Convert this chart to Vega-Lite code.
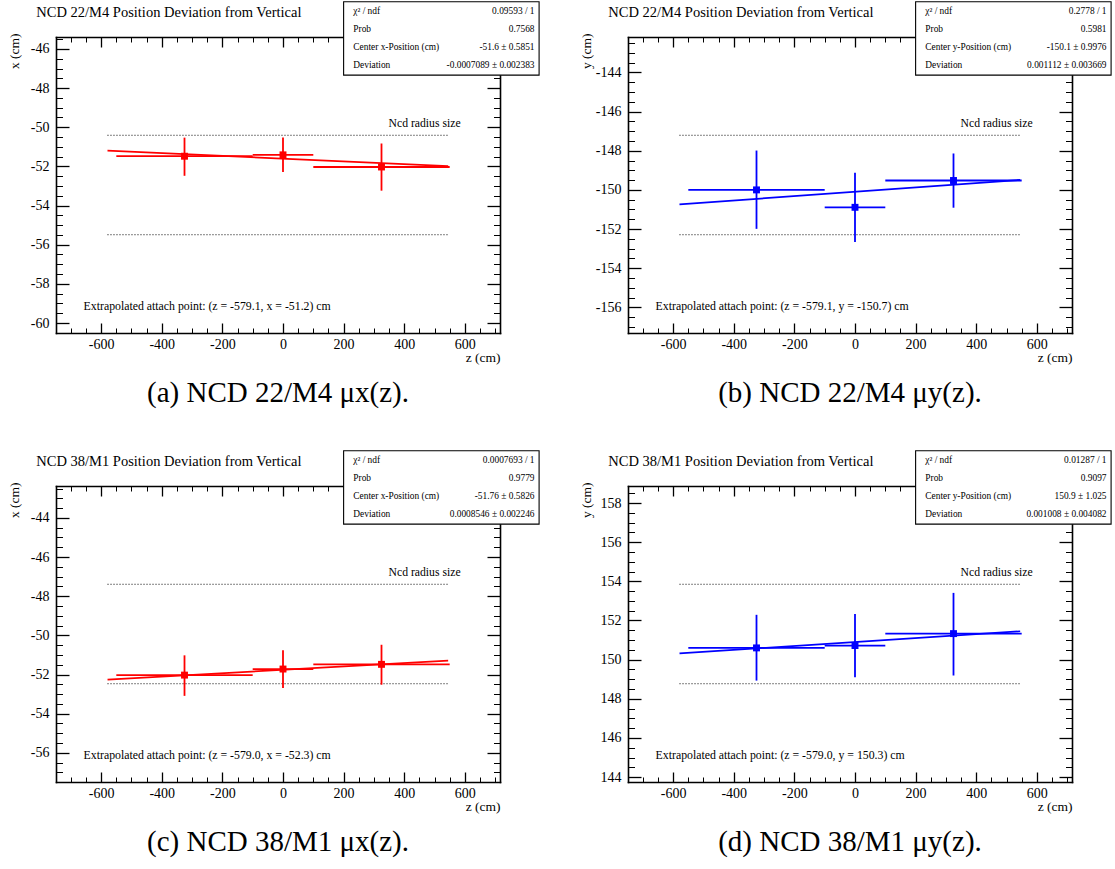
{
  "$schema": "https://vega.github.io/schema/vega-lite/v6.json",
  "background": "white",
  "padding": {"left": 7, "top": 1, "right": 2, "bottom": 2},
  "bounds": "flush",
  "columns": 2,
  "spacing": {"row": 153, "column": 128},
  "config": {
    "font": "Liberation Serif, Times New Roman, DejaVu Serif, serif",
    "view": {"stroke": null},
    "axis": {
      "domain": false, "grid": false, "tickColor": "black",
      "domainColor": "black", "domainWidth": 1.6, "domainCap": "square",
      "labelFont": "Liberation Serif, Times New Roman, DejaVu Serif, serif", "labelFontSize": 14, "labelColor": "black",
      "titleFont": "Liberation Serif, Times New Roman, DejaVu Serif, serif", "titleFontSize": 13.5, "titleFontWeight": "normal", "titleColor": "black"
    },
    "text": {"font": "Liberation Serif, Times New Roman, DejaVu Serif, serif", "color": "black"},
    "title": {"font": "Liberation Serif, Times New Roman, DejaVu Serif, serif", "fontSize": 29, "fontWeight": "normal", "color": "black"}
  },
  "datasets": {
    "a_pts": [
      {"z": -325, "z_lo": -550, "z_hi": -100, "v": -51.48, "v_lo": -52.48, "v_hi": -50.53},
      {"z": 0, "z_lo": -100, "z_hi": 100, "v": -51.41, "v_lo": -52.29, "v_hi": -50.53},
      {"z": 325, "z_lo": 100, "z_hi": 550, "v": -52.03, "v_lo": -53.24, "v_hi": -50.83}
    ],
    "a_fit": [{"z": -579.1, "v": -51.19}, {"z": 545, "v": -51.99}],
    "a_rad": [{"z1": -579.1, "z2": 545, "v": -50.41}, {"z1": -579.1, "z2": 545, "v": -55.49}],
    "b_pts": [
      {"z": -325, "z_lo": -550, "z_hi": -100, "v": -150.0, "v_lo": -151.99, "v_hi": -147.99},
      {"z": 0, "z_lo": -100, "z_hi": 100, "v": -150.89, "v_lo": -152.66, "v_hi": -149.12},
      {"z": 325, "z_lo": 100, "z_hi": 550, "v": -149.52, "v_lo": -150.91, "v_hi": -148.14}
    ],
    "b_fit": [{"z": -579.1, "v": -150.74}, {"z": 545, "v": -149.49}],
    "b_rad": [{"z1": -579.1, "z2": 545, "v": -147.21}, {"z1": -579.1, "z2": 545, "v": -152.29}],
    "c_pts": [
      {"z": -325, "z_lo": -550, "z_hi": -100, "v": -52.03, "v_lo": -53.09, "v_hi": -51.02},
      {"z": 0, "z_lo": -100, "z_hi": 100, "v": -51.72, "v_lo": -52.69, "v_hi": -50.76},
      {"z": 325, "z_lo": 100, "z_hi": 550, "v": -51.48, "v_lo": -52.52, "v_hi": -50.48}
    ],
    "c_fit": [{"z": -579.0, "v": -52.26}, {"z": 545, "v": -51.29}],
    "c_rad": [{"z1": -579.0, "z2": 545, "v": -47.39}, {"z1": -579.0, "z2": 545, "v": -52.47}],
    "d_pts": [
      {"z": -325, "z_lo": -550, "z_hi": -100, "v": 150.6, "v_lo": 148.93, "v_hi": 152.29},
      {"z": 0, "z_lo": -100, "z_hi": 100, "v": 150.72, "v_lo": 149.1, "v_hi": 152.33},
      {"z": 325, "z_lo": 100, "z_hi": 550, "v": 151.33, "v_lo": 149.19, "v_hi": 153.41}
    ],
    "d_fit": [{"z": -579.0, "v": 150.32}, {"z": 545, "v": 151.45}],
    "d_rad": [{"z1": -579.0, "z2": 545, "v": 153.85}, {"z1": -579.0, "z2": 545, "v": 148.77}]
  },
  "concat": [
    {
      "width": 444, "height": 296,
      "title": {"text": "(a) NCD 22/M4 μx(z).", "orient": "bottom", "anchor": "middle", "frame": "group", "offset": 15},
      "resolve": {"axis": {"x": "independent", "y": "independent"}},
      "layer": [
        {"data": {"name": "a_rad"},
         "mark": {"type": "rule", "color": "black", "strokeWidth": 1, "strokeDash": [1, 2]},
         "encoding": {
           "x": {"field": "z1", "type": "quantitative", "scale": {"domain": [-749, 716], "nice": false, "zero": false},
                 "axis": {"orient": "bottom", "values": [-600, -400, -200, 0, 200, 400, 600], "ticks": false, "labelPadding": 11, "labelBaseline": "middle", "labelExpr": "'' + datum.value", "labelOverlap": false, "labelFlush": false, "title": "z (cm)", "titleAlign": "right", "titleBaseline": "middle", "titleAngle": 0, "titleX": 444, "titleY": 24}},
           "x2": {"field": "z2"},
           "y": {"field": "v", "type": "quantitative", "scale": {"domain": [-60.51, -45.39], "nice": false, "zero": false},
                 "axis": {"orient": "left", "values": [-60, -58, -56, -54, -52, -50, -48, -46], "ticks": false, "labelPadding": 7, "labelBaseline": "middle", "labelAlign": "right", "labelExpr": "'' + datum.value", "labelOverlap": false, "labelFlush": false, "title": "x (cm)", "titleAngle": 270, "titleAlign": "right", "titleBaseline": "middle", "titleX": -42, "titleY": -4}}
         }},
        {"data": {"name": "a_pts"},
         "mark": {"type": "rule", "color": "#ff0000", "strokeWidth": 1.8},
         "encoding": {
           "x": {"field": "z_lo", "type": "quantitative", "scale": {"domain": [-749, 716], "nice": false, "zero": false},
                 "axis": {"orient": "bottom", "values": [-600, -400, -200, 0, 200, 400, 600], "labels": false, "domain": true, "tickSize": -10, "tickWidth": 1.3, "title": null}},
           "x2": {"field": "z_hi"},
           "y": {"field": "v", "type": "quantitative", "scale": {"domain": [-60.51, -45.39], "nice": false, "zero": false},
                 "axis": {"orient": "left", "values": [-60, -58, -56, -54, -52, -50, -48, -46], "labels": false, "domain": true, "tickSize": -13, "tickWidth": 1.3, "title": null}}
         }},
        {"data": {"name": "a_pts"},
         "mark": {"type": "rule", "color": "#ff0000", "strokeWidth": 1.8},
         "encoding": {
           "x": {"field": "z", "type": "quantitative", "scale": {"domain": [-749, 716], "nice": false, "zero": false},
                 "axis": {"orient": "bottom", "values": [-700, -650, -600, -550, -500, -450, -400, -350, -300, -250, -200, -150, -100, -50, 0, 50, 100, 150, 200, 250, 300, 350, 400, 450, 500, 550, 600, 650, 700], "labels": false, "tickSize": -5, "tickWidth": 1, "title": null}},
           "y": {"field": "v_lo", "type": "quantitative", "scale": {"domain": [-60.51, -45.39], "nice": false, "zero": false},
                 "axis": {"orient": "left", "values": [-60.5, -60, -59.5, -59, -58.5, -58, -57.5, -57, -56.5, -56, -55.5, -55, -54.5, -54, -53.5, -53, -52.5, -52, -51.5, -51, -50.5, -50, -49.5, -49, -48.5, -48, -47.5, -47, -46.5, -46, -45.5], "labels": false, "tickSize": -6.5, "tickWidth": 1, "title": null}},
           "y2": {"field": "v_hi"}
         }},
        {"data": {"name": "a_pts"},
         "mark": {"type": "square", "color": "#ff0000", "size": 48, "opacity": 1},
         "encoding": {
           "x": {"field": "z", "type": "quantitative", "scale": {"domain": [-749, 716], "nice": false, "zero": false},
                 "axis": {"orient": "top", "values": [-600, -400, -200, 0, 200, 400, 600], "labels": false, "domain": true, "tickSize": -10, "tickWidth": 1.3, "title": null}},
           "y": {"field": "v", "type": "quantitative", "scale": {"domain": [-60.51, -45.39], "nice": false, "zero": false},
                 "axis": {"orient": "right", "values": [-60, -58, -56, -54, -52, -50, -48, -46], "labels": false, "domain": true, "tickSize": -13, "tickWidth": 1.3, "title": null}}
         }},
        {"data": {"name": "a_fit"},
         "mark": {"type": "line", "color": "#ff0000", "strokeWidth": 1.7},
         "encoding": {
           "x": {"field": "z", "type": "quantitative", "scale": {"domain": [-749, 716], "nice": false, "zero": false},
                 "axis": {"orient": "top", "values": [-700, -650, -600, -550, -500, -450, -400, -350, -300, -250, -200, -150, -100, -50, 0, 50, 100, 150, 200, 250, 300, 350, 400, 450, 500, 550, 600, 650, 700], "labels": false, "tickSize": -5, "tickWidth": 1, "title": null}},
           "y": {"field": "v", "type": "quantitative", "scale": {"domain": [-60.51, -45.39], "nice": false, "zero": false},
                 "axis": {"orient": "right", "values": [-60.5, -60, -59.5, -59, -58.5, -58, -57.5, -57, -56.5, -56, -55.5, -55, -54.5, -54, -53.5, -53, -52.5, -52, -51.5, -51, -50.5, -50, -49.5, -49, -48.5, -48, -47.5, -47, -46.5, -46, -45.5], "labels": false, "tickSize": -6.5, "tickWidth": 1, "title": null}}
         }},
        {"data": {"values": [{}]},
         "mark": {"type": "text", "text": "Ncd radius size", "align": "right", "baseline": "middle", "fontSize": 11.7},
         "encoding": {
           "x": {"datum": 586, "type": "quantitative", "scale": {"domain": [-749, 716], "nice": false, "zero": false}, "axis": null},
           "y": {"datum": -49.8, "type": "quantitative", "scale": {"domain": [-60.51, -45.39], "nice": false, "zero": false}, "axis": null}
         }},
        {"data": {"values": [{}]},
         "mark": {"type": "text", "text": "Extrapolated attach point: (z = -579.1, x = -51.2) cm", "align": "left", "baseline": "middle", "fontSize": 11.8},
         "encoding": {
           "x": {"datum": -658, "type": "quantitative", "scale": {"domain": [-749, 716], "nice": false, "zero": false}, "axis": null},
           "y": {"datum": -59.12, "type": "quantitative", "scale": {"domain": [-60.51, -45.39], "nice": false, "zero": false}, "axis": null}
         }},
        {"data": {"values": [{}]},
         "mark": {"type": "text", "text": "NCD 22/M4 Position Deviation from Vertical", "align": "left", "baseline": "middle", "fontSize": 14.5},
         "encoding": {
           "x": {"datum": -814, "type": "quantitative", "scale": {"domain": [-749, 716], "nice": false, "zero": false}, "axis": null},
           "y": {"datum": -44.14, "type": "quantitative", "scale": {"domain": [-60.51, -45.39], "nice": false, "zero": false}, "axis": null}
         }},
        {"data": {"values": [{}]},
         "mark": {"type": "rect", "fill": "white", "stroke": "black", "strokeWidth": 1.1},
         "encoding": {
           "x": {"datum": 200, "type": "quantitative", "scale": {"domain": [-749, 716], "nice": false, "zero": false}, "axis": null},
           "x2": {"datum": 845},
           "y": {"datum": -43.59, "type": "quantitative", "scale": {"domain": [-60.51, -45.39], "nice": false, "zero": false}, "axis": null},
           "y2": {"datum": -47.34}
         }},
        {"data": {"values": [{}]},
         "mark": {"type": "text", "text": ["χ² / ndf", "Prob", "Center x-Position (cm)", "Deviation"], "align": "left", "baseline": "middle", "fontSize": 9.4, "lineHeight": 18.2},
         "encoding": {
           "x": {"datum": 232, "type": "quantitative", "scale": {"domain": [-749, 716], "nice": false, "zero": false}, "axis": null},
           "y": {"datum": -44.04, "type": "quantitative", "scale": {"domain": [-60.51, -45.39], "nice": false, "zero": false}, "axis": null}
         }},
        {"data": {"values": [{}]},
         "mark": {"type": "text", "text": ["0.09593 / 1", "0.7568", "-51.6 ± 0.5851", "-0.0007089 ± 0.002383"], "align": "right", "baseline": "middle", "fontSize": 9.4, "lineHeight": 18.2},
         "encoding": {
           "x": {"datum": 830, "type": "quantitative", "scale": {"domain": [-749, 716], "nice": false, "zero": false}, "axis": null},
           "y": {"datum": -44.04, "type": "quantitative", "scale": {"domain": [-60.51, -45.39], "nice": false, "zero": false}, "axis": null}
         }}
      ]
    },
    {
      "width": 444, "height": 296,
      "title": {"text": "(b) NCD 22/M4 μy(z).", "orient": "bottom", "anchor": "middle", "frame": "group", "offset": 15},
      "resolve": {"axis": {"x": "independent", "y": "independent"}},
      "layer": [
        {"data": {"name": "b_rad"},
         "mark": {"type": "rule", "color": "black", "strokeWidth": 1, "strokeDash": [1, 2]},
         "encoding": {
           "x": {"field": "z1", "type": "quantitative", "scale": {"domain": [-749, 716], "nice": false, "zero": false},
                 "axis": {"orient": "bottom", "values": [-600, -400, -200, 0, 200, 400, 600], "ticks": false, "labelPadding": 11, "labelBaseline": "middle", "labelExpr": "'' + datum.value", "labelOverlap": false, "labelFlush": false, "title": "z (cm)", "titleAlign": "right", "titleBaseline": "middle", "titleAngle": 0, "titleX": 444, "titleY": 24}},
           "x2": {"field": "z2"},
           "y": {"field": "v", "type": "quantitative", "scale": {"domain": [-157.31, -142.19], "nice": false, "zero": false},
                 "axis": {"orient": "left", "values": [-156, -154, -152, -150, -148, -146, -144], "ticks": false, "labelPadding": 7, "labelBaseline": "middle", "labelAlign": "right", "labelExpr": "'' + datum.value", "labelOverlap": false, "labelFlush": false, "title": "y (cm)", "titleAngle": 270, "titleAlign": "right", "titleBaseline": "middle", "titleX": -42, "titleY": -4}}
         }},
        {"data": {"name": "b_pts"},
         "mark": {"type": "rule", "color": "#0000ff", "strokeWidth": 1.8},
         "encoding": {
           "x": {"field": "z_lo", "type": "quantitative", "scale": {"domain": [-749, 716], "nice": false, "zero": false},
                 "axis": {"orient": "bottom", "values": [-600, -400, -200, 0, 200, 400, 600], "labels": false, "domain": true, "tickSize": -10, "tickWidth": 1.3, "title": null}},
           "x2": {"field": "z_hi"},
           "y": {"field": "v", "type": "quantitative", "scale": {"domain": [-157.31, -142.19], "nice": false, "zero": false},
                 "axis": {"orient": "left", "values": [-156, -154, -152, -150, -148, -146, -144], "labels": false, "domain": true, "tickSize": -13, "tickWidth": 1.3, "title": null}}
         }},
        {"data": {"name": "b_pts"},
         "mark": {"type": "rule", "color": "#0000ff", "strokeWidth": 1.8},
         "encoding": {
           "x": {"field": "z", "type": "quantitative", "scale": {"domain": [-749, 716], "nice": false, "zero": false},
                 "axis": {"orient": "bottom", "values": [-700, -650, -600, -550, -500, -450, -400, -350, -300, -250, -200, -150, -100, -50, 0, 50, 100, 150, 200, 250, 300, 350, 400, 450, 500, 550, 600, 650, 700], "labels": false, "tickSize": -5, "tickWidth": 1, "title": null}},
           "y": {"field": "v_lo", "type": "quantitative", "scale": {"domain": [-157.31, -142.19], "nice": false, "zero": false},
                 "axis": {"orient": "left", "values": [-157, -156.5, -156, -155.5, -155, -154.5, -154, -153.5, -153, -152.5, -152, -151.5, -151, -150.5, -150, -149.5, -149, -148.5, -148, -147.5, -147, -146.5, -146, -145.5, -145, -144.5, -144, -143.5, -143, -142.5], "labels": false, "tickSize": -6.5, "tickWidth": 1, "title": null}},
           "y2": {"field": "v_hi"}
         }},
        {"data": {"name": "b_pts"},
         "mark": {"type": "square", "color": "#0000ff", "size": 48, "opacity": 1},
         "encoding": {
           "x": {"field": "z", "type": "quantitative", "scale": {"domain": [-749, 716], "nice": false, "zero": false},
                 "axis": {"orient": "top", "values": [-600, -400, -200, 0, 200, 400, 600], "labels": false, "domain": true, "tickSize": -10, "tickWidth": 1.3, "title": null}},
           "y": {"field": "v", "type": "quantitative", "scale": {"domain": [-157.31, -142.19], "nice": false, "zero": false},
                 "axis": {"orient": "right", "values": [-156, -154, -152, -150, -148, -146, -144], "labels": false, "domain": true, "tickSize": -13, "tickWidth": 1.3, "title": null}}
         }},
        {"data": {"name": "b_fit"},
         "mark": {"type": "line", "color": "#0000ff", "strokeWidth": 1.7},
         "encoding": {
           "x": {"field": "z", "type": "quantitative", "scale": {"domain": [-749, 716], "nice": false, "zero": false},
                 "axis": {"orient": "top", "values": [-700, -650, -600, -550, -500, -450, -400, -350, -300, -250, -200, -150, -100, -50, 0, 50, 100, 150, 200, 250, 300, 350, 400, 450, 500, 550, 600, 650, 700], "labels": false, "tickSize": -5, "tickWidth": 1, "title": null}},
           "y": {"field": "v", "type": "quantitative", "scale": {"domain": [-157.31, -142.19], "nice": false, "zero": false},
                 "axis": {"orient": "right", "values": [-157, -156.5, -156, -155.5, -155, -154.5, -154, -153.5, -153, -152.5, -152, -151.5, -151, -150.5, -150, -149.5, -149, -148.5, -148, -147.5, -147, -146.5, -146, -145.5, -145, -144.5, -144, -143.5, -143, -142.5], "labels": false, "tickSize": -6.5, "tickWidth": 1, "title": null}}
         }},
        {"data": {"values": [{}]},
         "mark": {"type": "text", "text": "Ncd radius size", "align": "right", "baseline": "middle", "fontSize": 11.7},
         "encoding": {
           "x": {"datum": 586, "type": "quantitative", "scale": {"domain": [-749, 716], "nice": false, "zero": false}, "axis": null},
           "y": {"datum": -146.6, "type": "quantitative", "scale": {"domain": [-157.31, -142.19], "nice": false, "zero": false}, "axis": null}
         }},
        {"data": {"values": [{}]},
         "mark": {"type": "text", "text": "Extrapolated attach point: (z = -579.1, y = -150.7) cm", "align": "left", "baseline": "middle", "fontSize": 11.8},
         "encoding": {
           "x": {"datum": -658, "type": "quantitative", "scale": {"domain": [-749, 716], "nice": false, "zero": false}, "axis": null},
           "y": {"datum": -155.92, "type": "quantitative", "scale": {"domain": [-157.31, -142.19], "nice": false, "zero": false}, "axis": null}
         }},
        {"data": {"values": [{}]},
         "mark": {"type": "text", "text": "NCD 22/M4 Position Deviation from Vertical", "align": "left", "baseline": "middle", "fontSize": 14.5},
         "encoding": {
           "x": {"datum": -814, "type": "quantitative", "scale": {"domain": [-749, 716], "nice": false, "zero": false}, "axis": null},
           "y": {"datum": -140.94, "type": "quantitative", "scale": {"domain": [-157.31, -142.19], "nice": false, "zero": false}, "axis": null}
         }},
        {"data": {"values": [{}]},
         "mark": {"type": "rect", "fill": "white", "stroke": "black", "strokeWidth": 1.1},
         "encoding": {
           "x": {"datum": 200, "type": "quantitative", "scale": {"domain": [-749, 716], "nice": false, "zero": false}, "axis": null},
           "x2": {"datum": 845},
           "y": {"datum": -140.39, "type": "quantitative", "scale": {"domain": [-157.31, -142.19], "nice": false, "zero": false}, "axis": null},
           "y2": {"datum": -144.14}
         }},
        {"data": {"values": [{}]},
         "mark": {"type": "text", "text": ["χ² / ndf", "Prob", "Center y-Position (cm)", "Deviation"], "align": "left", "baseline": "middle", "fontSize": 9.4, "lineHeight": 18.2},
         "encoding": {
           "x": {"datum": 232, "type": "quantitative", "scale": {"domain": [-749, 716], "nice": false, "zero": false}, "axis": null},
           "y": {"datum": -140.84, "type": "quantitative", "scale": {"domain": [-157.31, -142.19], "nice": false, "zero": false}, "axis": null}
         }},
        {"data": {"values": [{}]},
         "mark": {"type": "text", "text": ["0.2778 / 1", "0.5981", "-150.1 ± 0.9976", "0.001112 ± 0.003669"], "align": "right", "baseline": "middle", "fontSize": 9.4, "lineHeight": 18.2},
         "encoding": {
           "x": {"datum": 830, "type": "quantitative", "scale": {"domain": [-749, 716], "nice": false, "zero": false}, "axis": null},
           "y": {"datum": -140.84, "type": "quantitative", "scale": {"domain": [-157.31, -142.19], "nice": false, "zero": false}, "axis": null}
         }}
      ]
    },
    {
      "width": 444, "height": 296,
      "title": {"text": "(c) NCD 38/M1 μx(z).", "orient": "bottom", "anchor": "middle", "frame": "group", "offset": 15},
      "resolve": {"axis": {"x": "independent", "y": "independent"}},
      "layer": [
        {"data": {"name": "c_rad"},
         "mark": {"type": "rule", "color": "black", "strokeWidth": 1, "strokeDash": [1, 2]},
         "encoding": {
           "x": {"field": "z1", "type": "quantitative", "scale": {"domain": [-749, 716], "nice": false, "zero": false},
                 "axis": {"orient": "bottom", "values": [-600, -400, -200, 0, 200, 400, 600], "ticks": false, "labelPadding": 11, "labelBaseline": "middle", "labelExpr": "'' + datum.value", "labelOverlap": false, "labelFlush": false, "title": "z (cm)", "titleAlign": "right", "titleBaseline": "middle", "titleAngle": 0, "titleX": 444, "titleY": 24}},
           "x2": {"field": "z2"},
           "y": {"field": "v", "type": "quantitative", "scale": {"domain": [-57.49, -42.37], "nice": false, "zero": false},
                 "axis": {"orient": "left", "values": [-56, -54, -52, -50, -48, -46, -44], "ticks": false, "labelPadding": 7, "labelBaseline": "middle", "labelAlign": "right", "labelExpr": "'' + datum.value", "labelOverlap": false, "labelFlush": false, "title": "x (cm)", "titleAngle": 270, "titleAlign": "right", "titleBaseline": "middle", "titleX": -42, "titleY": -4}}
         }},
        {"data": {"name": "c_pts"},
         "mark": {"type": "rule", "color": "#ff0000", "strokeWidth": 1.8},
         "encoding": {
           "x": {"field": "z_lo", "type": "quantitative", "scale": {"domain": [-749, 716], "nice": false, "zero": false},
                 "axis": {"orient": "bottom", "values": [-600, -400, -200, 0, 200, 400, 600], "labels": false, "domain": true, "tickSize": -10, "tickWidth": 1.3, "title": null}},
           "x2": {"field": "z_hi"},
           "y": {"field": "v", "type": "quantitative", "scale": {"domain": [-57.49, -42.37], "nice": false, "zero": false},
                 "axis": {"orient": "left", "values": [-56, -54, -52, -50, -48, -46, -44], "labels": false, "domain": true, "tickSize": -13, "tickWidth": 1.3, "title": null}}
         }},
        {"data": {"name": "c_pts"},
         "mark": {"type": "rule", "color": "#ff0000", "strokeWidth": 1.8},
         "encoding": {
           "x": {"field": "z", "type": "quantitative", "scale": {"domain": [-749, 716], "nice": false, "zero": false},
                 "axis": {"orient": "bottom", "values": [-700, -650, -600, -550, -500, -450, -400, -350, -300, -250, -200, -150, -100, -50, 0, 50, 100, 150, 200, 250, 300, 350, 400, 450, 500, 550, 600, 650, 700], "labels": false, "tickSize": -5, "tickWidth": 1, "title": null}},
           "y": {"field": "v_lo", "type": "quantitative", "scale": {"domain": [-57.49, -42.37], "nice": false, "zero": false},
                 "axis": {"orient": "left", "values": [-57, -56.5, -56, -55.5, -55, -54.5, -54, -53.5, -53, -52.5, -52, -51.5, -51, -50.5, -50, -49.5, -49, -48.5, -48, -47.5, -47, -46.5, -46, -45.5, -45, -44.5, -44, -43.5, -43, -42.5], "labels": false, "tickSize": -6.5, "tickWidth": 1, "title": null}},
           "y2": {"field": "v_hi"}
         }},
        {"data": {"name": "c_pts"},
         "mark": {"type": "square", "color": "#ff0000", "size": 48, "opacity": 1},
         "encoding": {
           "x": {"field": "z", "type": "quantitative", "scale": {"domain": [-749, 716], "nice": false, "zero": false},
                 "axis": {"orient": "top", "values": [-600, -400, -200, 0, 200, 400, 600], "labels": false, "domain": true, "tickSize": -10, "tickWidth": 1.3, "title": null}},
           "y": {"field": "v", "type": "quantitative", "scale": {"domain": [-57.49, -42.37], "nice": false, "zero": false},
                 "axis": {"orient": "right", "values": [-56, -54, -52, -50, -48, -46, -44], "labels": false, "domain": true, "tickSize": -13, "tickWidth": 1.3, "title": null}}
         }},
        {"data": {"name": "c_fit"},
         "mark": {"type": "line", "color": "#ff0000", "strokeWidth": 1.7},
         "encoding": {
           "x": {"field": "z", "type": "quantitative", "scale": {"domain": [-749, 716], "nice": false, "zero": false},
                 "axis": {"orient": "top", "values": [-700, -650, -600, -550, -500, -450, -400, -350, -300, -250, -200, -150, -100, -50, 0, 50, 100, 150, 200, 250, 300, 350, 400, 450, 500, 550, 600, 650, 700], "labels": false, "tickSize": -5, "tickWidth": 1, "title": null}},
           "y": {"field": "v", "type": "quantitative", "scale": {"domain": [-57.49, -42.37], "nice": false, "zero": false},
                 "axis": {"orient": "right", "values": [-57, -56.5, -56, -55.5, -55, -54.5, -54, -53.5, -53, -52.5, -52, -51.5, -51, -50.5, -50, -49.5, -49, -48.5, -48, -47.5, -47, -46.5, -46, -45.5, -45, -44.5, -44, -43.5, -43, -42.5], "labels": false, "tickSize": -6.5, "tickWidth": 1, "title": null}}
         }},
        {"data": {"values": [{}]},
         "mark": {"type": "text", "text": "Ncd radius size", "align": "right", "baseline": "middle", "fontSize": 11.7},
         "encoding": {
           "x": {"datum": 586, "type": "quantitative", "scale": {"domain": [-749, 716], "nice": false, "zero": false}, "axis": null},
           "y": {"datum": -46.78, "type": "quantitative", "scale": {"domain": [-57.49, -42.37], "nice": false, "zero": false}, "axis": null}
         }},
        {"data": {"values": [{}]},
         "mark": {"type": "text", "text": "Extrapolated attach point: (z = -579.0, x = -52.3) cm", "align": "left", "baseline": "middle", "fontSize": 11.8},
         "encoding": {
           "x": {"datum": -658, "type": "quantitative", "scale": {"domain": [-749, 716], "nice": false, "zero": false}, "axis": null},
           "y": {"datum": -56.1, "type": "quantitative", "scale": {"domain": [-57.49, -42.37], "nice": false, "zero": false}, "axis": null}
         }},
        {"data": {"values": [{}]},
         "mark": {"type": "text", "text": "NCD 38/M1 Position Deviation from Vertical", "align": "left", "baseline": "middle", "fontSize": 14.5},
         "encoding": {
           "x": {"datum": -814, "type": "quantitative", "scale": {"domain": [-749, 716], "nice": false, "zero": false}, "axis": null},
           "y": {"datum": -41.12, "type": "quantitative", "scale": {"domain": [-57.49, -42.37], "nice": false, "zero": false}, "axis": null}
         }},
        {"data": {"values": [{}]},
         "mark": {"type": "rect", "fill": "white", "stroke": "black", "strokeWidth": 1.1},
         "encoding": {
           "x": {"datum": 200, "type": "quantitative", "scale": {"domain": [-749, 716], "nice": false, "zero": false}, "axis": null},
           "x2": {"datum": 845},
           "y": {"datum": -40.57, "type": "quantitative", "scale": {"domain": [-57.49, -42.37], "nice": false, "zero": false}, "axis": null},
           "y2": {"datum": -44.32}
         }},
        {"data": {"values": [{}]},
         "mark": {"type": "text", "text": ["χ² / ndf", "Prob", "Center x-Position (cm)", "Deviation"], "align": "left", "baseline": "middle", "fontSize": 9.4, "lineHeight": 18.2},
         "encoding": {
           "x": {"datum": 232, "type": "quantitative", "scale": {"domain": [-749, 716], "nice": false, "zero": false}, "axis": null},
           "y": {"datum": -41.02, "type": "quantitative", "scale": {"domain": [-57.49, -42.37], "nice": false, "zero": false}, "axis": null}
         }},
        {"data": {"values": [{}]},
         "mark": {"type": "text", "text": ["0.0007693 / 1", "0.9779", "-51.76 ± 0.5826", "0.0008546 ± 0.002246"], "align": "right", "baseline": "middle", "fontSize": 9.4, "lineHeight": 18.2},
         "encoding": {
           "x": {"datum": 830, "type": "quantitative", "scale": {"domain": [-749, 716], "nice": false, "zero": false}, "axis": null},
           "y": {"datum": -41.02, "type": "quantitative", "scale": {"domain": [-57.49, -42.37], "nice": false, "zero": false}, "axis": null}
         }}
      ]
    },
    {
      "width": 444, "height": 296,
      "title": {"text": "(d) NCD 38/M1 μy(z).", "orient": "bottom", "anchor": "middle", "frame": "group", "offset": 15},
      "resolve": {"axis": {"x": "independent", "y": "independent"}},
      "layer": [
        {"data": {"name": "d_rad"},
         "mark": {"type": "rule", "color": "black", "strokeWidth": 1, "strokeDash": [1, 2]},
         "encoding": {
           "x": {"field": "z1", "type": "quantitative", "scale": {"domain": [-749, 716], "nice": false, "zero": false},
                 "axis": {"orient": "bottom", "values": [-600, -400, -200, 0, 200, 400, 600], "ticks": false, "labelPadding": 11, "labelBaseline": "middle", "labelExpr": "'' + datum.value", "labelOverlap": false, "labelFlush": false, "title": "z (cm)", "titleAlign": "right", "titleBaseline": "middle", "titleAngle": 0, "titleX": 444, "titleY": 24}},
           "x2": {"field": "z2"},
           "y": {"field": "v", "type": "quantitative", "scale": {"domain": [143.75, 158.87], "nice": false, "zero": false},
                 "axis": {"orient": "left", "values": [144, 146, 148, 150, 152, 154, 156, 158], "ticks": false, "labelPadding": 7, "labelBaseline": "middle", "labelAlign": "right", "labelExpr": "'' + datum.value", "labelOverlap": false, "labelFlush": false, "title": "y (cm)", "titleAngle": 270, "titleAlign": "right", "titleBaseline": "middle", "titleX": -42, "titleY": -4}}
         }},
        {"data": {"name": "d_pts"},
         "mark": {"type": "rule", "color": "#0000ff", "strokeWidth": 1.8},
         "encoding": {
           "x": {"field": "z_lo", "type": "quantitative", "scale": {"domain": [-749, 716], "nice": false, "zero": false},
                 "axis": {"orient": "bottom", "values": [-600, -400, -200, 0, 200, 400, 600], "labels": false, "domain": true, "tickSize": -10, "tickWidth": 1.3, "title": null}},
           "x2": {"field": "z_hi"},
           "y": {"field": "v", "type": "quantitative", "scale": {"domain": [143.75, 158.87], "nice": false, "zero": false},
                 "axis": {"orient": "left", "values": [144, 146, 148, 150, 152, 154, 156, 158], "labels": false, "domain": true, "tickSize": -13, "tickWidth": 1.3, "title": null}}
         }},
        {"data": {"name": "d_pts"},
         "mark": {"type": "rule", "color": "#0000ff", "strokeWidth": 1.8},
         "encoding": {
           "x": {"field": "z", "type": "quantitative", "scale": {"domain": [-749, 716], "nice": false, "zero": false},
                 "axis": {"orient": "bottom", "values": [-700, -650, -600, -550, -500, -450, -400, -350, -300, -250, -200, -150, -100, -50, 0, 50, 100, 150, 200, 250, 300, 350, 400, 450, 500, 550, 600, 650, 700], "labels": false, "tickSize": -5, "tickWidth": 1, "title": null}},
           "y": {"field": "v_lo", "type": "quantitative", "scale": {"domain": [143.75, 158.87], "nice": false, "zero": false},
                 "axis": {"orient": "left", "values": [144, 144.5, 145, 145.5, 146, 146.5, 147, 147.5, 148, 148.5, 149, 149.5, 150, 150.5, 151, 151.5, 152, 152.5, 153, 153.5, 154, 154.5, 155, 155.5, 156, 156.5, 157, 157.5, 158, 158.5], "labels": false, "tickSize": -6.5, "tickWidth": 1, "title": null}},
           "y2": {"field": "v_hi"}
         }},
        {"data": {"name": "d_pts"},
         "mark": {"type": "square", "color": "#0000ff", "size": 48, "opacity": 1},
         "encoding": {
           "x": {"field": "z", "type": "quantitative", "scale": {"domain": [-749, 716], "nice": false, "zero": false},
                 "axis": {"orient": "top", "values": [-600, -400, -200, 0, 200, 400, 600], "labels": false, "domain": true, "tickSize": -10, "tickWidth": 1.3, "title": null}},
           "y": {"field": "v", "type": "quantitative", "scale": {"domain": [143.75, 158.87], "nice": false, "zero": false},
                 "axis": {"orient": "right", "values": [144, 146, 148, 150, 152, 154, 156, 158], "labels": false, "domain": true, "tickSize": -13, "tickWidth": 1.3, "title": null}}
         }},
        {"data": {"name": "d_fit"},
         "mark": {"type": "line", "color": "#0000ff", "strokeWidth": 1.7},
         "encoding": {
           "x": {"field": "z", "type": "quantitative", "scale": {"domain": [-749, 716], "nice": false, "zero": false},
                 "axis": {"orient": "top", "values": [-700, -650, -600, -550, -500, -450, -400, -350, -300, -250, -200, -150, -100, -50, 0, 50, 100, 150, 200, 250, 300, 350, 400, 450, 500, 550, 600, 650, 700], "labels": false, "tickSize": -5, "tickWidth": 1, "title": null}},
           "y": {"field": "v", "type": "quantitative", "scale": {"domain": [143.75, 158.87], "nice": false, "zero": false},
                 "axis": {"orient": "right", "values": [144, 144.5, 145, 145.5, 146, 146.5, 147, 147.5, 148, 148.5, 149, 149.5, 150, 150.5, 151, 151.5, 152, 152.5, 153, 153.5, 154, 154.5, 155, 155.5, 156, 156.5, 157, 157.5, 158, 158.5], "labels": false, "tickSize": -6.5, "tickWidth": 1, "title": null}}
         }},
        {"data": {"values": [{}]},
         "mark": {"type": "text", "text": "Ncd radius size", "align": "right", "baseline": "middle", "fontSize": 11.7},
         "encoding": {
           "x": {"datum": 586, "type": "quantitative", "scale": {"domain": [-749, 716], "nice": false, "zero": false}, "axis": null},
           "y": {"datum": 154.46, "type": "quantitative", "scale": {"domain": [143.75, 158.87], "nice": false, "zero": false}, "axis": null}
         }},
        {"data": {"values": [{}]},
         "mark": {"type": "text", "text": "Extrapolated attach point: (z = -579.0, y = 150.3) cm", "align": "left", "baseline": "middle", "fontSize": 11.8},
         "encoding": {
           "x": {"datum": -658, "type": "quantitative", "scale": {"domain": [-749, 716], "nice": false, "zero": false}, "axis": null},
           "y": {"datum": 145.14, "type": "quantitative", "scale": {"domain": [143.75, 158.87], "nice": false, "zero": false}, "axis": null}
         }},
        {"data": {"values": [{}]},
         "mark": {"type": "text", "text": "NCD 38/M1 Position Deviation from Vertical", "align": "left", "baseline": "middle", "fontSize": 14.5},
         "encoding": {
           "x": {"datum": -814, "type": "quantitative", "scale": {"domain": [-749, 716], "nice": false, "zero": false}, "axis": null},
           "y": {"datum": 160.12, "type": "quantitative", "scale": {"domain": [143.75, 158.87], "nice": false, "zero": false}, "axis": null}
         }},
        {"data": {"values": [{}]},
         "mark": {"type": "rect", "fill": "white", "stroke": "black", "strokeWidth": 1.1},
         "encoding": {
           "x": {"datum": 200, "type": "quantitative", "scale": {"domain": [-749, 716], "nice": false, "zero": false}, "axis": null},
           "x2": {"datum": 845},
           "y": {"datum": 160.67, "type": "quantitative", "scale": {"domain": [143.75, 158.87], "nice": false, "zero": false}, "axis": null},
           "y2": {"datum": 156.92}
         }},
        {"data": {"values": [{}]},
         "mark": {"type": "text", "text": ["χ² / ndf", "Prob", "Center y-Position (cm)", "Deviation"], "align": "left", "baseline": "middle", "fontSize": 9.4, "lineHeight": 18.2},
         "encoding": {
           "x": {"datum": 232, "type": "quantitative", "scale": {"domain": [-749, 716], "nice": false, "zero": false}, "axis": null},
           "y": {"datum": 160.22, "type": "quantitative", "scale": {"domain": [143.75, 158.87], "nice": false, "zero": false}, "axis": null}
         }},
        {"data": {"values": [{}]},
         "mark": {"type": "text", "text": ["0.01287 / 1", "0.9097", "150.9 ± 1.025", "0.001008 ± 0.004082"], "align": "right", "baseline": "middle", "fontSize": 9.4, "lineHeight": 18.2},
         "encoding": {
           "x": {"datum": 830, "type": "quantitative", "scale": {"domain": [-749, 716], "nice": false, "zero": false}, "axis": null},
           "y": {"datum": 160.22, "type": "quantitative", "scale": {"domain": [143.75, 158.87], "nice": false, "zero": false}, "axis": null}
         }}
      ]
    }
  ]
}
